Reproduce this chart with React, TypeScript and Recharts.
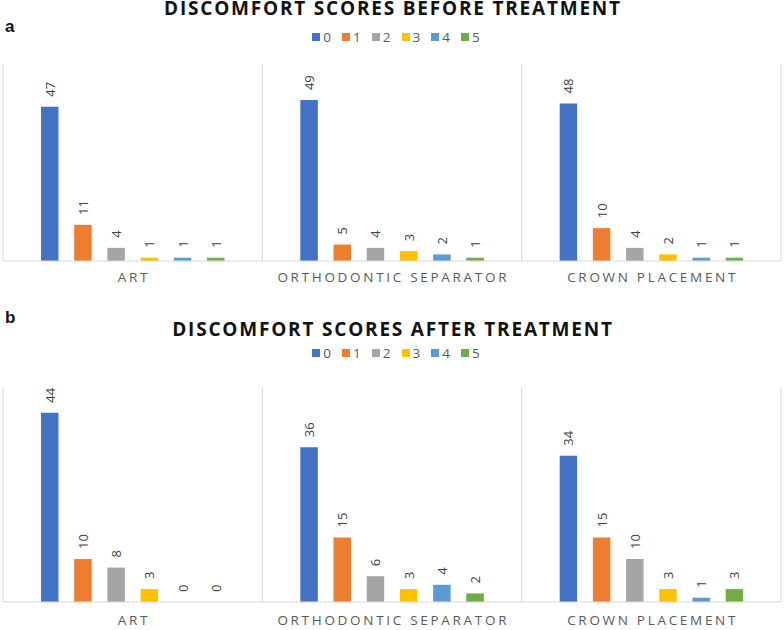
import React from 'react';
import { BarChart, Bar, XAxis, YAxis, CartesianGrid, LabelList } from 'recharts';

const categories = ['ART', 'ORTHODONTIC SEPARATOR', 'CROWN PLACEMENT'];
const scores = ['0', '1', '2', '3', '4', '5'];
const COLORS = ['#4472C4', '#ED7D31', '#A5A5A5', '#FFC000', '#5B9BD5', '#70AD47'];

// counts per score 0..5
const beforeArt = [47, 11, 4, 1, 1, 1];
const beforeOrtho = [49, 5, 4, 3, 2, 1];
const beforeCrown = [48, 10, 4, 2, 1, 1];
const afterArt = [44, 10, 8, 3, 0, 0];
const afterOrtho = [36, 15, 6, 3, 4, 2];
const afterCrown = [34, 15, 10, 3, 1, 3];

const toRows = (groups: number[][]) =>
  categories.map((name, i) => {
    const row: any = { name };
    scores.forEach((s, j) => {
      row['s' + s] = groups[i][j];
    });
    return row;
  });

const beforeData = toRows([beforeArt, beforeOrtho, beforeCrown]);
const afterData = toRows([afterArt, afterOrtho, afterCrown]);

const FONT = '"Open Sans", sans-serif';

const CategoryTick = (props: any) => {
  const { x, y, payload, dy } = props;
  return (
    <text
      x={x + 1.3}
      y={y}
      dy={dy}
      textAnchor="middle"
      dominantBaseline="central"
      fill="#595959"
      fontSize={13.5}
      letterSpacing={2.7}
      fontFamily={FONT}
    >
      {payload.value}
    </text>
  );
};

const renderValue = (props: any) => {
  const { x, y, width, value } = props;
  const cx = Number(x) + Number(width) / 2;
  const top = Number(y) - 10;
  return (
    <text
      transform={`translate(${cx},${top}) rotate(-90)`}
      textAnchor="start"
      dominantBaseline="central"
      fontSize={13}
      fill="#404040"
      fontFamily={FONT}
    >
      {value}
    </text>
  );
};

// zero counts still get a (invisible) bar so their label is drawn
const keepZero = (value: any) => (Number(value) === 0 ? 0.01 : 0);

const boundaries = ({ offset }: any) =>
  [0, 1, 2, 3].map((i) => offset.left + (i * offset.width) / categories.length);

function ScoreChart({ data, height, top, axisHeight, max, tickDy }: any) {
  return (
    <BarChart
      width={784}
      height={height}
      data={data}
      margin={{ top, right: 3, left: 3, bottom: 0 }}
      barSize={17.5}
      barGap={15.7}
    >
      <CartesianGrid
        horizontal={false}
        stroke="#d9d9d9"
        verticalCoordinatesGenerator={boundaries}
      />
      <XAxis
        dataKey="name"
        height={axisHeight}
        tickLine={false}
        axisLine={{ stroke: '#d9d9d9' }}
        interval={0}
        tick={<CategoryTick dy={tickDy} />}
      />
      <YAxis hide domain={[0, max]} />
      {scores.map((s, i) => (
        <Bar
          key={s}
          dataKey={'s' + s}
          fill={COLORS[i]}
          minPointSize={keepZero}
          isAnimationActive={false}
        >
          <LabelList dataKey={'s' + s} content={renderValue} />
        </Bar>
      ))}
    </BarChart>
  );
}

function Legend({ top }: { top: number }) {
  return (
    <div
      style={{
        position: 'absolute',
        top,
        left: 0,
        width: 784,
        display: 'flex',
        justifyContent: 'center',
        paddingLeft: 8,
        boxSizing: 'border-box',
        fontFamily: FONT,
        fontSize: 13.5,
        color: '#595959',
        lineHeight: '16px',
      }}
    >
      {scores.map((s, i) => (
        <div key={s} style={{ display: 'flex', alignItems: 'center', marginRight: i < scores.length - 1 ? 11 : 0 }}>
          <div style={{ width: 8, height: 8, background: COLORS[i], marginRight: 3 }} />
          <span>{s}</span>
        </div>
      ))}
    </div>
  );
}

const titleStyle: React.CSSProperties = {
  position: 'absolute',
  left: 0,
  width: 784,
  textAlign: 'center',
  fontFamily: FONT,
  fontWeight: 700,
  fontSize: 19,
  letterSpacing: 1.8,
  lineHeight: '15px',
  color: '#111',
  paddingLeft: 2,
  boxSizing: 'border-box',
};

const panelLetter: React.CSSProperties = {
  position: 'absolute',
  left: 5,
  fontFamily: '"Liberation Sans", Arial, sans-serif',
  fontWeight: 700,
  fontSize: 17,
  lineHeight: '17px',
  color: '#111',
};

export default function App() {
  return (
    <div style={{ position: 'relative', width: 784, height: 630, background: '#fff', overflow: 'hidden' }}>
      <style>{'body{margin:0;}'}</style>
      <div style={{ position: 'absolute', top: 0, left: 0 }}>
        <ScoreChart data={beforeData} height={300} top={64} axisHeight={39} max={60} tickDy={8} />
      </div>
      <div style={{ position: 'absolute', top: 300, left: 0 }}>
        <ScoreChart data={afterData} height={330} top={87} axisHeight={28} max={50} tickDy={10} />
      </div>
      <div style={{ ...titleStyle, top: 1 }}>DISCOMFORT SCORES BEFORE TREATMENT</div>
      <div style={{ ...panelLetter, top: 18 }}>a</div>
      <Legend top={29} />
      <div style={{ ...titleStyle, top: 322 }}>DISCOMFORT SCORES AFTER TREATMENT</div>
      <div style={{ ...panelLetter, top: 309 }}>b</div>
      <Legend top={345} />
    </div>
  );
}
